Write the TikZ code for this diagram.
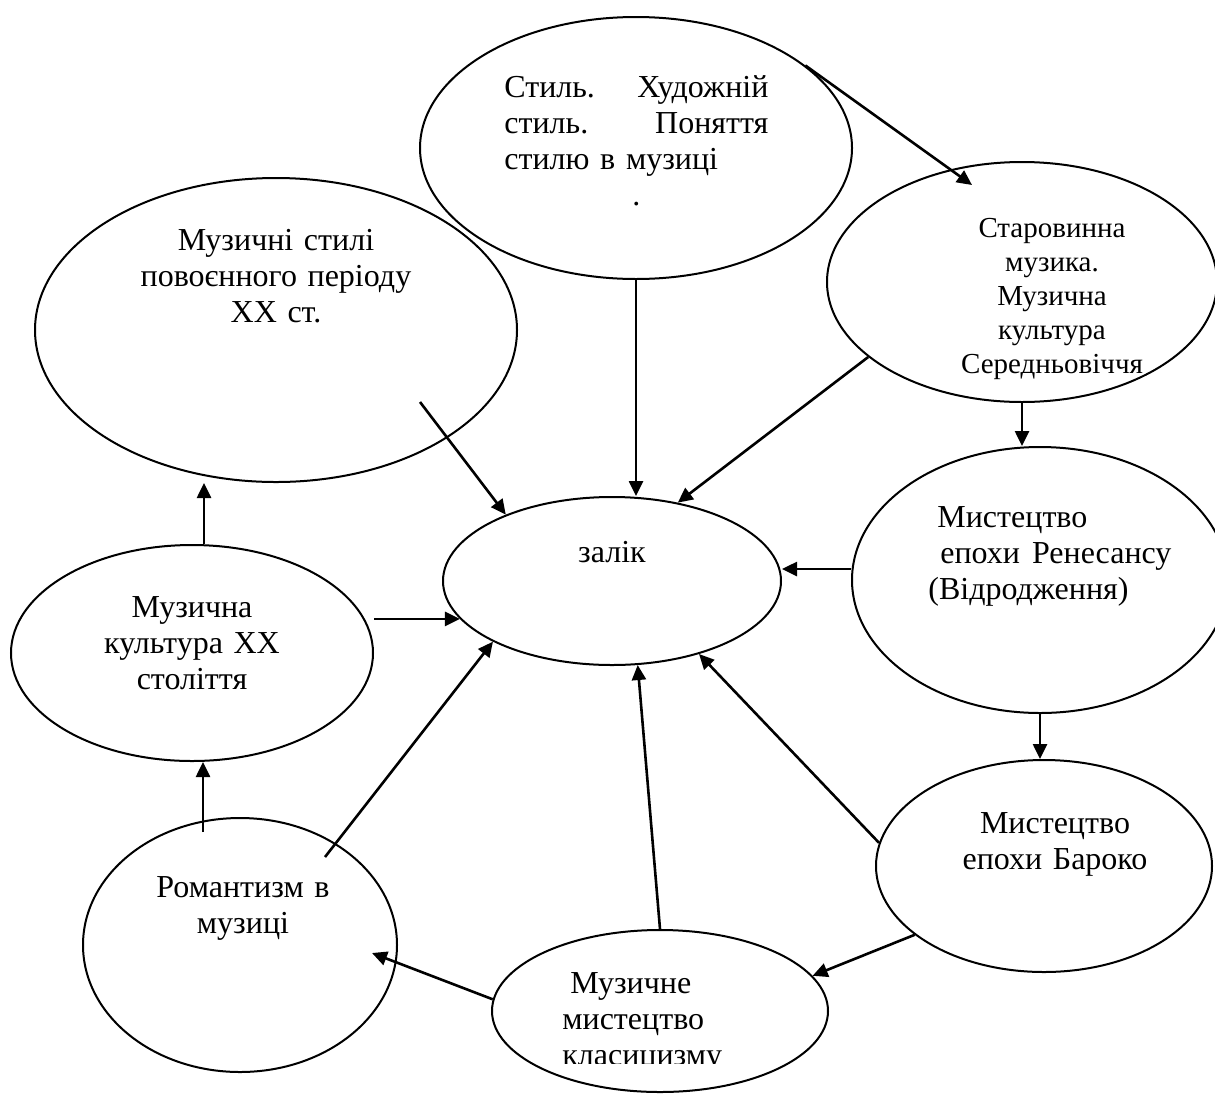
\documentclass[tikz,border=0pt]{standalone}
\usepackage{fontspec}
\setmainfont{Liberation Serif}
\usetikzlibrary{shapes.geometric,arrows.meta}

\tikzset{
  oval/.style 2 args={ellipse, draw, line width=1pt, inner sep=0pt,
    minimum width=#1pt, minimum height=#2pt},
  lbl/.style={align=center, text width=150pt, inner sep=0pt, font=\fontsize{16}{18}\selectfont},
  arr/.style={line width=1.3pt, -{Triangle[length=7.5pt,width=7pt]}},
}

\begin{document}
\begin{tikzpicture}[x=0.5pt, y=-0.5pt]
\useasboundingbox (0,0) rectangle (1215,1093);

% the ovals
\node[oval={216}{131}] (stil) at (636,148) {};
\node[oval={241}{152}] (povoen) at (276,330) {};
\node[oval={195}{120}] (staro) at (1022,282) {};
\node[oval={169}{84}] (zalik) at (612,581) {};
\node[oval={188}{133}] (renes) at (1040,580) {};
\node[oval={181}{108}] (xx) at (192,653) {};
\node[oval={168}{106}] (baroko) at (1044,866) {};
\node[oval={157}{127}] (roman) at (240,945) {};
\node[oval={168}{81}] (klas) at (660,1011) {};

% texts
\node[lbl, text width=132pt, align=left, anchor=base west] (stil-t) at (504,97)
  {Стиль.\hfill Художній\\стиль.\hfill Поняття\\стилю в музиці\hspace*{\fill}\\\makebox[132pt]{.}};
\node[lbl, anchor=base] (povoen-t) at (276,250) {Музичні стилі\\повоєнного періоду\\XX ст.};
\node[lbl, anchor=base, text width=120pt, font=\fontsize{14.5}{17}\selectfont] (staro-t) at (1052,237)
  {Старовинна\\музика.\\Музична\\культура\\Середньовіччя};
\node[lbl, anchor=base] (zalik-t) at (612,562) {залік};
\node[lbl, align=left, anchor=base west] (renes-t) at (928,527)
  {\hspace*{4.5pt}Мистецтво\hspace*{\fill}\\\hspace*{6pt}епохи\hspace{6pt}Ренесансу\hspace*{\fill}\\(Відродження)\hspace*{\fill}};
\node[lbl, anchor=base] (xx-t) at (192,617) {Музична\\культура XX\\століття};
\node[lbl, anchor=base] (baroko-t) at (1055,833) {Мистецтво\\епохи Бароко};
\node[lbl, anchor=base] (roman-t) at (243,897) {Романтизм в\\музиці};
\begin{scope}
\clip (480,940) rectangle (840,1063);
\node[lbl, align=left, anchor=base west] (klas-t) at (562,993)
  {\hspace*{4pt}Музичне\hspace*{\fill}\\мистецтво\hspace*{\fill}\\класицизму\hspace*{\fill}};
\end{scope}

% free ends inside the ovals
\coordinate (povoen-s) at (420,402);
\coordinate (roman-s) at (325,857);
\coordinate (roman-u) at (203,832);
\coordinate (roman-in) at (372,953);
\coordinate (staro-in) at (972,185);

% arrows
\draw[arr] (stil.26) -- (staro-in);
\draw[arr] (stil.south) -- (stil.south |- zalik.north);
\draw[arr] (povoen-s) -- (zalik.148);
\draw[arr] (staro.206) -- (zalik.50);
\draw[arr] (staro.south) -- (staro.south |- renes.north);
\draw[arr] ([yshift=5.5pt]renes.west) -- ([yshift=5.5pt]renes.west -| zalik.east);
\draw[arr] (renes.south) -- (renes.south |- baroko.north);
\draw[arr] (baroko.172) -- (zalik.-40);
\draw[arr] (baroko.208) -- (klas.13);
\draw[arr] (klas.north) -- (zalik.-73);
\draw[arr] (klas.176) -- (roman-in);
\draw[arr] (roman-s) -- (zalik.207);
\draw[arr] (roman-u) -- (roman-u |- xx.south);
\draw[arr] (xx.east |- zalik.194) -- (zalik.194);
\draw[arr] ([xshift=6pt]xx.north) -- ([xshift=6pt]xx.north |- povoen.south);

\end{tikzpicture}
\end{document}
